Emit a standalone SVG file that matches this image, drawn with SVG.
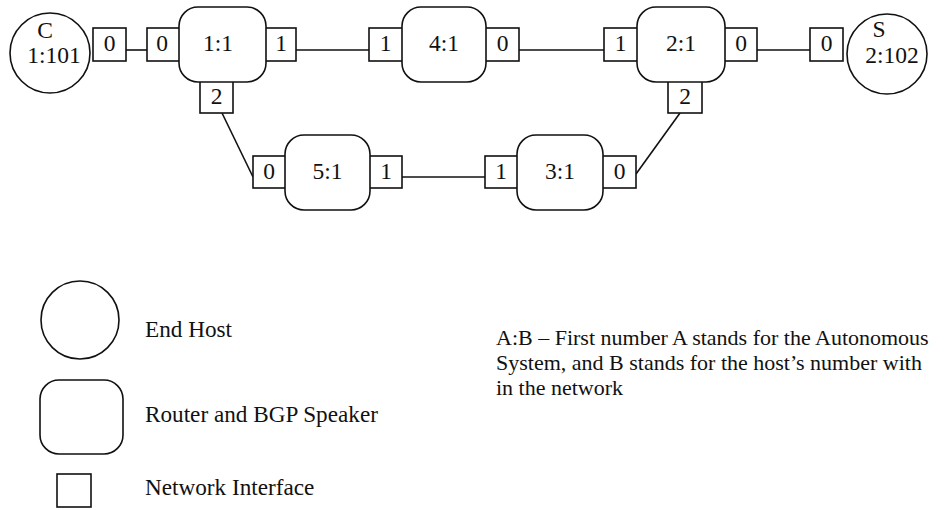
<svg xmlns="http://www.w3.org/2000/svg" width="945" height="510" viewBox="0 0 945 510">
<style>
.sh{fill:#fff;stroke:#111;stroke-width:1.6}
.ln{fill:none;stroke:#111;stroke-width:1.6}
text{font-family:"Liberation Serif","Times New Roman",serif;fill:#111}
.lb{font-size:23.5px;text-anchor:middle}
.lg{font-size:23.2px}
.nt{font-size:22px}
</style>
<rect width="945" height="510" fill="#fff"/>
<g id="connectors">
<line class="ln" x1="126" y1="50" x2="147" y2="50"/>
<line class="ln" x1="296" y1="50" x2="369" y2="50"/>
<line class="ln" x1="519" y1="50" x2="604" y2="50"/>
<line class="ln" x1="757" y1="50" x2="810" y2="50"/>
<line class="ln" x1="222" y1="113" x2="253" y2="177"/>
<line class="ln" x1="402" y1="177" x2="485" y2="177"/>
<line class="ln" x1="680" y1="113" x2="636" y2="174"/>
</g>
<g id="hostC">
<circle class="sh" cx="50" cy="53" r="40"/>
<text class="lb" x="45" y="38">C</text>
<text class="lb" x="54" y="63">1:101</text>
</g>
<g id="ifC0"><rect class="sh" x="93" y="28" width="33" height="33"/><text class="lb" x="109.5" y="51">0</text></g>
<g id="if11-0"><rect class="sh" x="147" y="28" width="33" height="33"/><text class="lb" x="162" y="51">0</text></g>
<g id="if11-1"><rect class="sh" x="262" y="28" width="34" height="33"/><text class="lb" x="281" y="51">1</text></g>
<g id="if11-2"><rect class="sh" x="200" y="78" width="33" height="35"/><text class="lb" x="216.5" y="104">2</text></g>
<g id="router11"><rect class="sh" x="179" y="7" width="87" height="75" rx="19"/><text class="lb" x="218" y="51">1:1</text></g>
<g id="if41-1"><rect class="sh" x="369" y="28" width="37" height="33"/><text class="lb" x="385.5" y="51">1</text></g>
<g id="if41-0"><rect class="sh" x="482" y="28" width="37" height="33"/><text class="lb" x="502.5" y="51">0</text></g>
<g id="router41"><rect class="sh" x="402" y="7" width="84" height="75" rx="19"/><text class="lb" x="444" y="51">4:1</text></g>
<g id="if21-1"><rect class="sh" x="604" y="28" width="37" height="33"/><text class="lb" x="620.5" y="51">1</text></g>
<g id="if21-0"><rect class="sh" x="721" y="28" width="36" height="33"/><text class="lb" x="741" y="51">0</text></g>
<g id="if21-2"><rect class="sh" x="668" y="78" width="34" height="35"/><text class="lb" x="685" y="104">2</text></g>
<g id="router21"><rect class="sh" x="637" y="7" width="88" height="75" rx="19"/><text class="lb" x="681" y="51">2:1</text></g>
<g id="ifS0"><rect class="sh" x="810" y="28" width="33" height="33"/><text class="lb" x="826.5" y="51">0</text></g>
<g id="hostS">
<circle class="sh" cx="887" cy="54" r="40"/>
<text class="lb" x="879" y="37">S</text>
<text class="lb" x="892" y="63">2:102</text>
</g>
<g id="if51-0"><rect class="sh" x="253" y="156" width="36" height="32"/><text class="lb" x="269" y="179">0</text></g>
<g id="if51-1"><rect class="sh" x="366" y="156" width="36" height="32"/><text class="lb" x="386" y="179">1</text></g>
<g id="router51"><rect class="sh" x="285" y="135" width="85" height="75" rx="19"/><text class="lb" x="327.5" y="179">5:1</text></g>
<g id="if31-1"><rect class="sh" x="485" y="156" width="36" height="32"/><text class="lb" x="501" y="179">1</text></g>
<g id="if31-0"><rect class="sh" x="599" y="156" width="37" height="32"/><text class="lb" x="619.5" y="179">0</text></g>
<g id="router31"><rect class="sh" x="517" y="135" width="86" height="75" rx="19"/><text class="lb" x="560" y="179">3:1</text></g>
<g id="legend">
<circle class="sh" cx="80" cy="320" r="39"/>
<text class="lg" x="145" y="337">End Host</text>
<rect class="sh" x="40" y="380" width="83" height="74" rx="19"/>
<text class="lg" x="145" y="422">Router and BGP Speaker</text>
<rect class="sh" x="57" y="474" width="34" height="33"/>
<text class="lg" x="145" y="495">Network Interface</text>
<text class="nt" x="496" y="345">A:B – First number A stands for the Autonomous</text>
<text class="nt" x="496" y="370">System, and B stands for the host’s number with</text>
<text class="nt" x="496" y="395">in the network</text>
</g>
</svg>
